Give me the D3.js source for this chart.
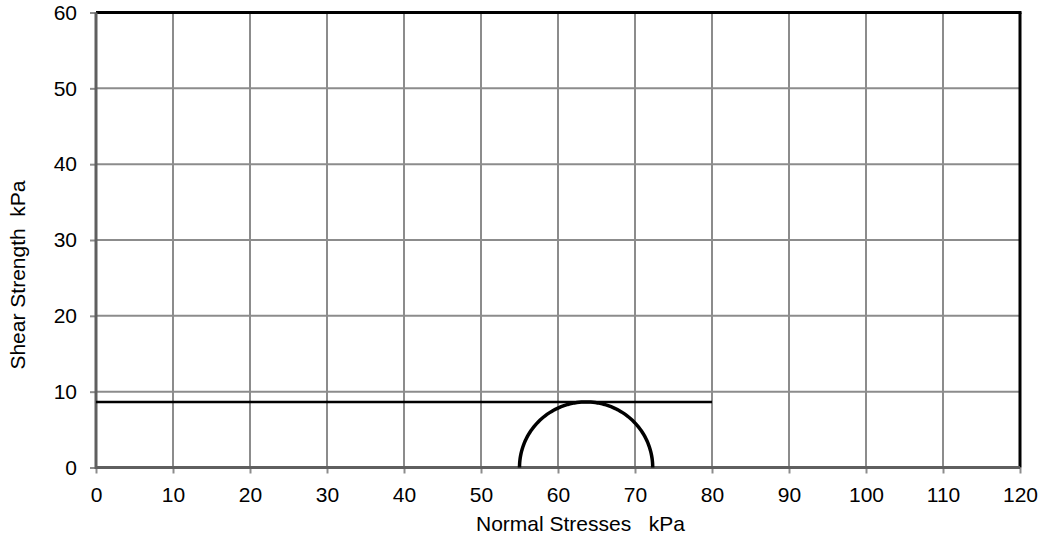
<!DOCTYPE html>
<html>
<head>
<meta charset="utf-8">
<script src="https://cdn.jsdelivr.net/npm/d3@7"></script>
<style>
  html, body { margin: 0; padding: 0; background: #fff; }
  svg { display: block; font-family: "Liberation Sans", Arial, sans-serif; }
</style>
</head>
<body>
<svg id="chart" width="1040" height="537"></svg>
<script>
// ---- data ----
const xTicks = [0, 10, 20, 30, 40, 50, 60, 70, 80, 90, 100, 110, 120];
const yTicks = [0, 10, 20, 30, 40, 50, 60];
// Mohr circle principal stresses (kPa)
const sigma3 = 55.0;
const sigma1 = 72.3;
// Failure envelope (undrained shear strength), kPa
const envelopeX = [0, 80];
const envelopeY = [8.65, 8.65];
const xLabel = "Normal Stresses   kPa";
const yLabel = "Shear Strength  kPa";

// ---- layout ----
const svg = d3.select("#chart");
const x = d3.scaleLinear().domain([0, 120]).range([96, 1020]);
const y = d3.scaleLinear().domain([0, 60]).range([467.5, 12.5]);
const fontSize = 21;

// gridlines
svg.append("g").selectAll("line.v").data(xTicks.filter(d => d > 0 && d < 120)).join("line")
  .attr("x1", d => x(d)).attr("x2", d => x(d))
  .attr("y1", y(60)).attr("y2", y(0))
  .attr("stroke", "#8c8c8c").attr("stroke-width", 2);
svg.append("g").selectAll("line.h").data(yTicks.filter(d => d > 0 && d < 60)).join("line")
  .attr("x1", x(0)).attr("x2", x(120))
  .attr("y1", d => y(d)).attr("y2", d => y(d))
  .attr("stroke", "#8c8c8c").attr("stroke-width", 2);

// axes with d3
const xAxis = d3.axisBottom(x).tickValues(xTicks).tickSize(6).tickPadding(13).tickFormat(d3.format("d"));
const yAxis = d3.axisLeft(y).tickValues(yTicks).tickSize(6).tickPadding(13).tickFormat(d3.format("d"));

const gx = svg.append("g").attr("transform", `translate(0,${y(0)})`).call(xAxis);
const gy = svg.append("g").attr("transform", `translate(${x(0)},0)`).call(yAxis);
[gx, gy].forEach(g => {
  g.select(".domain").remove();
  g.selectAll(".tick line").attr("stroke", "#8c8c8c").attr("stroke-width", 2);
  g.selectAll(".tick text").attr("fill", "#000").style("font-size", fontSize + "px")
    .style("font-family", '"Liberation Sans", Arial, sans-serif');
});
gx.selectAll(".tick text").attr("dy", "0.72em");

// top and right borders (black)
svg.append("line").attr("x1", x(0)).attr("x2", x(120) + 1.5).attr("y1", y(60)).attr("y2", y(60))
  .attr("stroke", "#000").attr("stroke-width", 3);
svg.append("line").attr("x1", x(120)).attr("x2", x(120)).attr("y1", y(60)).attr("y2", y(0))
  .attr("stroke", "#000").attr("stroke-width", 3);
// left and bottom axis lines (dark grey)
svg.append("line").attr("x1", x(0)).attr("x2", x(0)).attr("y1", y(60)).attr("y2", y(0) + 1.5)
  .attr("stroke", "#5f5f5f").attr("stroke-width", 3);
svg.append("line").attr("x1", x(0)).attr("x2", x(120)).attr("y1", y(0)).attr("y2", y(0))
  .attr("stroke", "#5f5f5f").attr("stroke-width", 3);

// envelope line
const line = d3.line().x(d => x(d[0])).y(d => y(d[1]));
svg.append("path")
  .datum(envelopeX.map((v, i) => [v, envelopeY[i]]))
  .attr("d", line).attr("fill", "none").attr("stroke", "#000").attr("stroke-width", 2.5);

// Mohr circle (upper half) from sigma3 / sigma1
const c = (sigma1 + sigma3) / 2, r = (sigma1 - sigma3) / 2;
const circlePts = d3.range(0, 181, 2).map(a => {
  const t = a * Math.PI / 180;
  return [c - r * Math.cos(t), r * Math.sin(t)];
});
svg.append("path").datum(circlePts).attr("d", line)
  .attr("fill", "none").attr("stroke", "#000").attr("stroke-width", 3.5);

// axis titles
svg.append("text").attr("x", 476).attr("y", 531)
  .style("font-size", fontSize + "px").attr("fill", "#000")
  .attr("xml:space", "preserve").style("white-space", "pre").text(xLabel);
svg.append("text").attr("transform", "translate(25,275) rotate(-90)")
  .attr("text-anchor", "middle")
  .style("font-size", fontSize + "px").attr("fill", "#000")
  .attr("xml:space", "preserve").style("white-space", "pre").text(yLabel);
</script>
</body>
</html>
